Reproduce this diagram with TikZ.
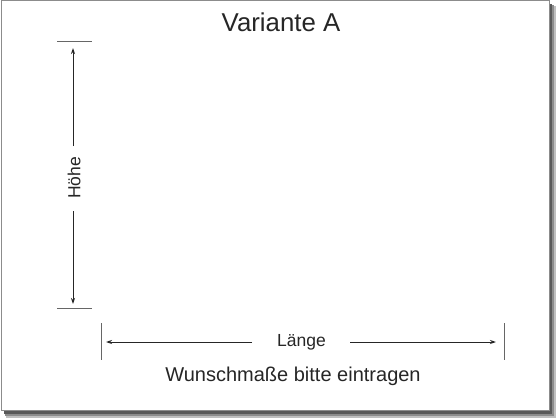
\documentclass[tikz,border=0pt]{standalone}
\usepackage{fontspec}
\setmainfont{Liberation Sans}
\usetikzlibrary{arrows.meta}
\begin{document}
\begin{tikzpicture}[x=1pt,y=-1pt,
  tick/.style={draw=black!60,line width=0.8pt},
  dimline/.style={draw=black!85,line width=1pt,-{Stealth[length=6pt,width=4pt]}},
  lbl/.style={inner sep=0pt,text=black!85}]
\useasboundingbox (0,0) rectangle (560,420);
% shadow
\fill[black!25] (6,6) rectangle (556,418);
\fill[black!45] (5,5) rectangle (554,416);
\fill[black!65] (4,4) rectangle (552,414);
\fill[white,draw=black!45,line width=1pt] (1,1) rectangle (549,410);
% title
\node[lbl,font=\fontsize{25.8pt}{30pt}\selectfont] (title) at (281,22) {Variante A};
% height dimension
\draw[tick] (57,41) -- (92,41);
\draw[tick] (57,308) -- (92,308);
\node[lbl,rotate=90,font=\fontsize{17.5pt}{20pt}\selectfont] (hoehe) at (74,178) {Höhe};
\coordinate (hup) at (73,146);
\coordinate (hdn) at (73,211);
\draw[dimline] (hup) -- (73,48);
\draw[dimline] (hdn) -- (73,304);
% length dimension
\draw[tick] (101,323) -- (101,360);
\draw[tick] (504,323) -- (504,360);
\node[lbl,font=\fontsize{17.5pt}{20pt}\selectfont] (laenge) at (301.5,342) {Länge};
\coordinate (lleft) at (252,342);
\coordinate (lright) at (350,342);
\draw[dimline] (lleft) -- (106,342);
\draw[dimline] (lright) -- (496,342);
% caption
\node[lbl,font=\fontsize{20pt}{24pt}\selectfont] (caption) at (293,376) {Wunschmaße bitte eintragen};
\end{tikzpicture}
\end{document}
